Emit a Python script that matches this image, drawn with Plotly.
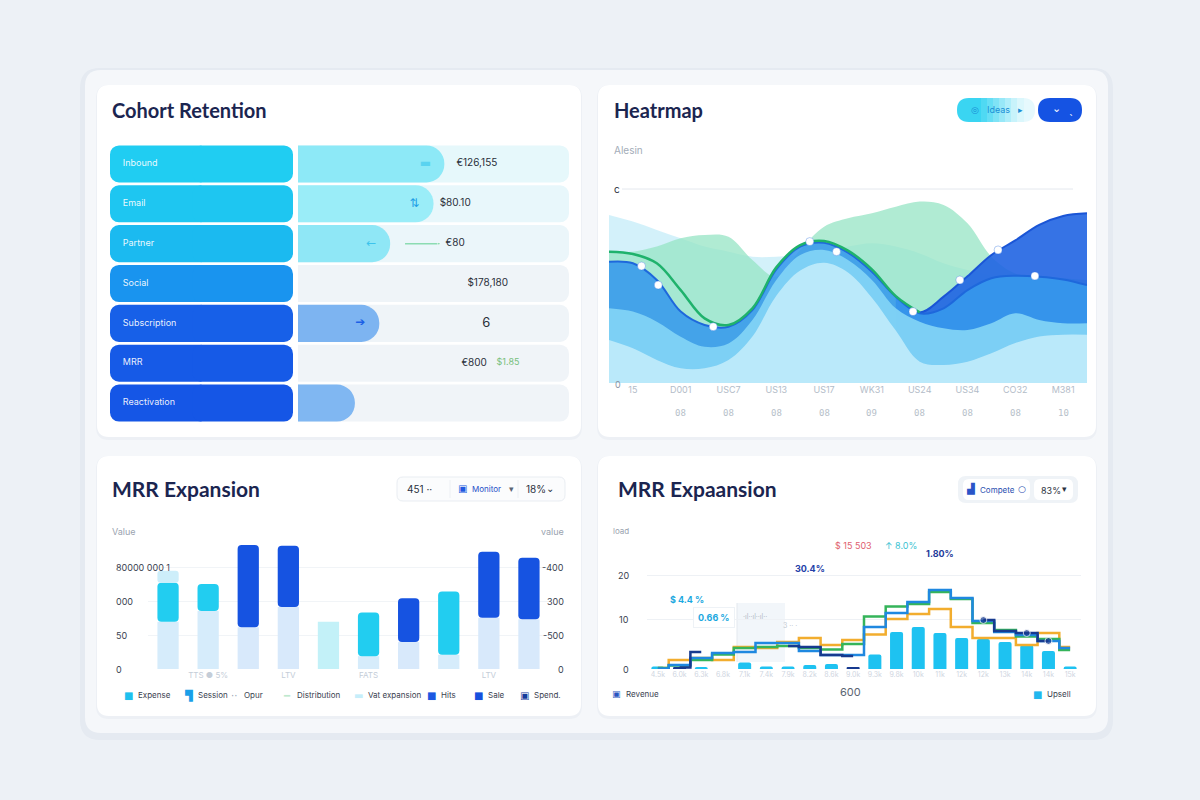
import plotly.graph_objects as go

W, H = 1200, 800
FONT = "Inter"
TFONT = "Lato"

# ---------------- data ----------------
# Cohort Retention
cohort_channels = ["Inbound", "Email", "Partner", "Social", "Subscription", "MRR", "Reactivation"]
cohort_retained = [54, 50, 34, 0, 30, 0, 21]
cohort_value_text = ["€126,155", "$80.10", "€80", "$178,180", "6", "€800", ""]
cohort_delta_text = ["", "", "", "", "", "$1.85", ""]
cohort_icons = ["▬", "⇅", "←", "", "➔", "", ""]
track_full = 100

# Heatmap (layered areas)
heat_x = [-0.5, 0, 0.5, 1, 1.5, 2, 2.5, 3, 3.5, 4, 4.5, 5, 5.5, 6, 6.5, 7, 7.5, 8, 8.5, 9, 9.5]
heat_ticks = ["15", "D001", "USC7", "US13", "US17", "WK31", "US24", "US34", "CO32", "M381"]
heat_subticks = ["", "08", "08", "08", "08", "09", "08", "08", "08", "10"]
heat_baseline = [86.6, 83.2, 78.9, 74.6, 70.3, 67.7, 65.1, 65.1, 66.0, 67.7, 70.3, 72.0, 70.3, 66.8, 61.7, 58.2, 55.7, 54.8, 54.0, 52.2, 49.7]
heat_mint = [67.7, 67.7, 70.3, 74.6, 76.3, 75.4, 63.4, 54.8, 68.6, 80.6, 84.9, 87.5, 90.9, 93.5, 91.8, 82.3, 65.1, 56.5, 54.8, 54.0, 53.1]
heat_blue = [62.5, 61.7, 53.1, 36.8, 29.9, 29.0, 37.6, 58.6, 70.3, 72.3, 67.2, 57.4, 44.5, 35.9, 38.5, 47.9, 54.0, 55.3, 54.8, 53.4, 50.5]
heat_right_x = [5.5, 6, 6.5, 7, 7.5, 8, 8.5, 9, 9.5]
heat_right = [44.5, 36.4, 44.5, 55.0, 66.0, 73.5, 81.5, 86.1, 87.5]
heat_band = [38.5, 36.8, 31.6, 23.9, 18.7, 20.4, 32.5, 53.1, 66.0, 68.6, 63.4, 53.1, 38.5, 31.6, 28.2, 27.3, 30.8, 35.9, 32.5, 30.8, 30.8]
heat_low = [22.2, 17.9, 11.9, 7.6, 7.6, 11.9, 24.0, 45.0, 58.0, 62.0, 57.0, 44.0, 27.0, 11.0, 9.3, 11.0, 15.3, 20.6, 24.0, 24.9, 24.9]
heat_green_x = [-0.5, 0, 0.5, 1, 1.5, 2, 2.5, 3, 3.5, 4, 4.5, 5, 5.5, 6]
heat_green = [67.7, 66.5, 61.7, 47.9, 33.3, 29.9, 38.5, 59.6, 71.1, 73.2, 68.2, 58.6, 44.8, 36.4]
heat_pts_x = [0.18, 0.53, 1.68, 3.7, 4.26, 5.86, 6.84, 7.64, 8.41]
heat_pts_y = [60.3, 50.5, 29.0, 72.9, 67.7, 36.8, 53.1, 68.6, 55.2]

# MRR Expansion (bars)
mrr_ticks = ["", "TTS ● 5%", "", "LTV", "", "FATS", "", "", "LTV", ""]
mrr_base = [70, 86, 62, 92, 70, 19, 40, 21, 76, 74]
mrr_expansion = [58, 40, 122, 91, 0, 65, 65, 94, 98, 91]
mrr_cap = [18, 0, 0, 0, 0, 0, 0, 0, 0, 0]
mrr_kind = ["cyan", "cyan", "blue", "blue", "pale", "cyan", "blue", "cyan", "blue", "blue"]
mrr_left_ticks = [0, 50, 100, 150]
mrr_left_labels = ["0", "50", "000", "80000 000 1"]
mrr_right_labels = ["0", "-500", "300", "-400"]
mrr_legend = ["Expense", "Session", "Opur", "Distribution", "Vat expansion", "Hits", "Sale", "Spend."]

# MRR Expaansion (bars + step lines)
exp_ticks = ["4.5k", "6.0k", "6.3k", "6.8k", "7.1k", "7.4k", "7.9k", "8.2k", "8.6k", "9.0k",
             "9.3k", "9.8k", "10k", "11k", "12k", "12k", "13k", "14k", "14k", "15k"]
exp_bars = [0.5, 0.3, 0.4, 0, 1.3, 0.5, 0.5, 0.8, 1.0, 0.3, 2.9, 7.4, 8.4, 7.2, 6.2, 6.0, 5.4, 4.8, 3.6, 0.5]
exp_bar_kind = ["c", "n", "c", "c", "c", "c", "c", "c", "c", "n", "c", "c", "c", "c", "c", "c", "c", "c", "c", "c"]
exp_blue = [0.1, 0.8, 2.2, 3.2, 3.4, 5.2, 5.2, 3.6, 2.8, 2.8, 8.4, 11.2, 13.4, 15.8, 14.2, 9.6, 7.4, 6.8, 5.6, 4.2]
exp_orange = [0.2, 1.8, 2.2, 1.8, 4.4, 4.2, 5.4, 6.2, 4.8, 5.8, 6.9, 10.0, 11.0, 12.0, 8.4, 6.2, 6.2, 4.8, 7.2, 4.4]
exp_green = [0.2, 0.7, 1.8, 2.9, 4.2, 4.4, 4.6, 4.2, 3.9, 5.0, 10.5, 12.5, 13.0, 15.4, 14.0, 9.2, 7.8, 6.5, 6.0, 3.8]
exp_navy = [None, 0.3, 3.4, None, None, None, 4.6, 4.4, 2.8, 2.6, None, None, None, None, None, 9.8, 7.6, 7.2, 5.6, None]
exp_navy_marker = [0, 0, 0, 0, 0, 0, 0, 0, 0, 0, 0, 0, 0, 0, 0, 7, 0, 7, 7, 0]
exp_y_ticks = [0, 10, 18.8, 27.6]
exp_y_labels = ["0", "10", "20", "load"]
exp_callouts = ["$ 4.4 %", "0.66 %", "30.4%", "$ 15 503", "↑ 8.0%", "1.80%"]
exp_callout_x = [1.34, 2.6, 7.0, 9.0, 11.2, 13.0]
exp_callout_y = [14.0, 10.4, 20.2, 24.8, 24.8, 23.2]

# ---------------- helpers ----------------
def px(x):
    return x / W


def py(y):
    return 1 - y / H


def rr(x0, y0, x1, y1, r, fill, line=None, lw=0):
    pts = [
        ("M", [(x0 + r, y0)]), ("L", [(x1 - r, y0)]), ("Q", [(x1, y0), (x1, y0 + r)]),
        ("L", [(x1, y1 - r)]), ("Q", [(x1, y1), (x1 - r, y1)]), ("L", [(x0 + r, y1)]),
        ("Q", [(x0, y1), (x0, y1 - r)]), ("L", [(x0, y0 + r)]), ("Q", [(x0, y0), (x0 + r, y0)]),
    ]
    path = " ".join(c + " " + " ".join(f"{px(a):.5f},{py(b):.5f}" for a, b in p) for c, p in pts) + " Z"
    return dict(type="path", xref="paper", yref="paper", path=path, fillcolor=fill,
                line=dict(color=line or "rgba(0,0,0,0)", width=lw), layer="below")


def hline(x0, x1, y, color, w=1):
    return dict(type="line", xref="paper", yref="paper", x0=px(x0), x1=px(x1), y0=py(y), y1=py(y),
                line=dict(color=color, width=w), layer="below")


def vline(x, y0, y1, color, w=1):
    return dict(type="line", xref="paper", yref="paper", x0=px(x), x1=px(x), y0=py(y0), y1=py(y1),
                line=dict(color=color, width=w), layer="below")


def txt(x, y, s, size=10, color="#2b3240", anchor="left", family=FONT):
    return dict(xref="paper", yref="paper", x=px(x), y=py(y), text=s, showarrow=False,
                xanchor=anchor, yanchor="middle", font=dict(size=size, color=color, family=family))


fig = go.Figure()
shapes = []
ann = []

# ---------------- background cards ----------------
shapes.append(rr(80, 68, 1113, 740, 20, "rgba(40,70,120,0.035)"))
shapes.append(rr(85, 70, 1108, 733, 16, "#f5f7fa"))
for (a, b, c, d) in [(97, 85, 581, 437), (598, 85, 1096, 437), (97, 456, 581, 716), (598, 456, 1096, 716)]:
    shapes.append(rr(a - 1, b, c + 1, d + 3, 13, "rgba(40,70,120,0.04)"))
    shapes.append(rr(a, b, c, d, 12, "#ffffff"))

# ---------------- Cohort Retention ----------------
ann.append(txt(110, 110, "<b>Cohort Retention</b>", 20, "#1b2550", family=TFONT))
pill_colors = ["#20cdf2", "#1ec6f1", "#1bbaf0", "#1994ef", "#1760e8", "#165ae7", "#1556e6"]
track_colors = ["#e6f8fb", "#e8f7fb", "#ebf6fa", "#eff4f8", "#eff4f8", "#f0f4f8", "#f0f4f8"]
fill_colors = ["#8de9f7", "#9aedf8", "#8fe7f6", "#8fe7f6", "#7db4f1", "#7db4f1", "#80b7f2"]
icon_colors = ["#5ad3f0", "#1f9fe6", "#3cc3ec", "#3cc3ec", "#1c5fe6", "#1c5fe6", "#1c5fe6"]

fig.add_trace(go.Bar(orientation="h", y=cohort_channels, x=[-1] * 7, width=0.93, xaxis="x", yaxis="y",
                     marker=dict(color=pill_colors, cornerradius=9, line=dict(width=0)), hoverinfo="skip"))
fig.add_trace(go.Bar(orientation="h", y=cohort_channels, x=[1.1] * 7, base=-0.1, width=0.93, xaxis="x", yaxis="y",
                     marker=dict(color=pill_colors, cornerradius=9, line=dict(width=0)), hoverinfo="skip"))
fig.add_trace(go.Scatter(x=[-0.86] * 7, y=cohort_channels, text=cohort_channels, mode="text",
                         textposition="middle right", xaxis="x", yaxis="y", cliponaxis=False,
                         textfont=dict(size=9, color="rgba(255,255,255,0.92)", family=FONT), hoverinfo="skip"))
fig.add_trace(go.Bar(orientation="h", y=cohort_channels, x=[track_full] * 7, width=0.93, xaxis="x2", yaxis="y",
                     marker=dict(color=track_colors, cornerradius=9, line=dict(width=0)), hoverinfo="skip"))
fig.add_trace(go.Bar(orientation="h", y=cohort_channels, x=cohort_retained, width=0.93, xaxis="x6", yaxis="y",
                     marker=dict(color=fill_colors, cornerradius=18, line=dict(width=0)), hoverinfo="skip"))
fig.add_trace(go.Scatter(x=[v - 7 for v in cohort_retained], y=cohort_channels, text=cohort_icons, mode="text",
                         xaxis="x6", yaxis="y", cliponaxis=False,
                         textfont=dict(size=12, color=icon_colors, family="DejaVu Sans"), hoverinfo="skip"))
value_x = [66, 58, 58, 70, 69.5, 65, 0]
value_sizes = [10, 10, 10, 10, 13, 10, 10]
fig.add_trace(go.Scatter(x=value_x, y=cohort_channels, text=cohort_value_text, mode="text",
                         xaxis="x6", yaxis="y", cliponaxis=False,
                         textfont=dict(size=value_sizes, color="#2a2f3a", family=FONT), hoverinfo="skip"))
fig.add_trace(go.Scatter(x=[77.5] * 7, y=cohort_channels, text=cohort_delta_text, mode="text",
                         xaxis="x6", yaxis="y", cliponaxis=False,
                         textfont=dict(size=9, color="#78c07c", family=FONT), hoverinfo="skip"))
fig.add_trace(go.Scatter(x=[39.5, 52], y=[cohort_channels[2]] * 2, mode="lines+markers", xaxis="x6", yaxis="y",
                         line=dict(color="#8cdcb2", width=1.5), marker=dict(size=[0, 3], color="#8cdcb2"),
                         hoverinfo="skip"))

# ---------------- Heatrmap ----------------
ann.append(txt(612, 110, "<b>Heatrmap</b>", 20, "#1b2550", family=TFONT))
ann.append(txt(612, 150, "Alesin", 10, "#a3acb8"))
shapes.append(rr(957, 98, 1035, 122, 12, "#e6f9fd"))
grad = ["#3ad5f2", "#4fd9f3", "#66def5", "#7fe3f6", "#98e8f8", "#b0eefa", "#c8f3fb", "#dbf7fc"]
shapes.append(rr(957, 98, 990, 122, 12, grad[0]))
for i, col in enumerate(grad):
    shapes.append(dict(type="rect", xref="paper", yref="paper", x0=px(975 + 6 * i), x1=px(982 + 6 * i),
                       y0=py(122), y1=py(98), fillcolor=col, line=dict(width=0), layer="below"))
shapes.append(rr(1038, 98, 1082, 122, 12, "#1553e3"))
ann.append(txt(975, 110, "◎", 9, "#1b8fd6", "center", "DejaVu Sans"))
ann.append(txt(985, 110, "Ideas", 9, "#1b8fd6"))
ann.append(txt(1020, 110, "▸", 9, "#1b8fd6", "center", "DejaVu Sans"))
ann.append(txt(1056, 109, "⌄", 11, "#ffffff", "center", "DejaVu Sans"))
ann.append(txt(1071, 110, "ˎ", 10, "#ffffff", "center", "DejaVu Sans"))
shapes.append(hline(622, 1073, 189, "#e4e8ee", 1))
ann.append(txt(617, 189, "c", 10, "#2a2f3a", "center"))
ann.append(txt(618, 384, "0", 9, "#8a94a3", "center"))

fig.add_trace(go.Scatter(x=heat_x, y=heat_baseline, mode="lines", line=dict(shape="spline", width=0),
                         fill="tozeroy", fillcolor="rgba(175,230,246,0.55)", xaxis="x3", yaxis="y3", hoverinfo="skip"))
fig.add_trace(go.Scatter(x=heat_x, y=heat_mint, mode="lines", line=dict(shape="spline", width=0),
                         fill="tozeroy", fillcolor="rgba(150,228,196,0.75)", xaxis="x3", yaxis="y3", hoverinfo="skip"))
fig.add_trace(go.Scatter(x=heat_right_x, y=heat_right, mode="lines", line=dict(shape="spline", width=2, color="#1a55d6"),
                         fill="tozeroy", fillcolor="rgba(32,100,226,0.9)", xaxis="x3", yaxis="y3", hoverinfo="skip"))
fig.add_trace(go.Scatter(x=heat_x, y=heat_blue, mode="lines", line=dict(shape="spline", width=2, color="#1e68dc"),
                         fill="tozeroy", fillcolor="rgba(55,152,236,0.88)", xaxis="x3", yaxis="y3", hoverinfo="skip"))
fig.add_trace(go.Scatter(x=heat_x, y=heat_band, mode="lines", line=dict(shape="spline", width=0),
                         fill="tozeroy", fillcolor="rgba(130,212,245,0.92)", xaxis="x3", yaxis="y3", hoverinfo="skip"))
fig.add_trace(go.Scatter(x=heat_x, y=heat_low, mode="lines", line=dict(shape="spline", width=0),
                         fill="tozeroy", fillcolor="rgba(190,234,250,0.95)", xaxis="x3", yaxis="y3", hoverinfo="skip"))
fig.add_trace(go.Scatter(x=heat_green_x, y=heat_green, mode="lines", line=dict(shape="spline", width=2.5, color="#1fb26c"),
                         xaxis="x3", yaxis="y3", hoverinfo="skip"))
fig.add_trace(go.Scatter(x=heat_pts_x, y=heat_pts_y, mode="markers", xaxis="x3", yaxis="y3",
                         marker=dict(size=8, color="#ffffff", line=dict(color="rgba(40,110,220,0.35)", width=1)),
                         hoverinfo="skip"))
for i, s in enumerate(heat_subticks):
    if s:
        ann.append(dict(xref="x3", yref="paper", x=i, y=py(413), text=s, showarrow=False,
                        font=dict(size=9, color="#b7bfca", family="DejaVu Sans Mono")))

# ---------------- MRR Expansion (bars) ----------------
ann.append(txt(110, 489, "<b>MRR Expansion</b>", 21, "#1b2550", family=TFONT))
shapes.append(rr(397, 477, 565, 501, 6, "#fbfcfd", "#e9edf2", 1))
shapes.append(vline(450, 480, 498, "#edf0f4"))
shapes.append(vline(518, 480, 498, "#edf0f4"))
ann.append(txt(405, 489, "451 ··", 10, "#2b3240"))
ann.append(txt(463, 488, "▣", 10, "#2058e0", "center", "DejaVu Sans"))
ann.append(txt(470, 489, "Monitor", 8, "#1f4fc8"))
ann.append(txt(511, 489, "▾", 9, "#5a6472", "center", "DejaVu Sans"))
ann.append(txt(524, 489, "18%", 10, "#2b3240"))
ann.append(txt(550, 489, "⌄", 10, "#2b3240", "center", "DejaVu Sans"))
ann.append(txt(110, 531, "Value", 9, "#9aa3af"))
ann.append(txt(566, 531, "value", 9, "#9aa3af", "right"))

kind_color = {"cyan": "#22cdf0", "blue": "#1653e1", "pale": "#bff0f8"}
base_color = {"cyan": "#d6ecfb", "blue": "#d8e9fb", "pale": "#c3f1f8"}
fig.add_trace(go.Bar(x=list(range(10)), y=mrr_base, width=0.53, xaxis="x4", yaxis="y4",
                     marker=dict(color=[base_color[k] for k in mrr_kind], line=dict(width=0),
                                 cornerradius=[0 if k != "pale" else 4 for k in mrr_kind]),
                     hoverinfo="skip"))
fig.add_trace(go.Bar(x=list(range(10)), y=mrr_expansion, base=mrr_base, width=0.53, xaxis="x4", yaxis="y4",
                     marker=dict(color=[kind_color[k] for k in mrr_kind], cornerradius=4, line=dict(width=0)),
                     hoverinfo="skip"))
fig.add_trace(go.Bar(x=list(range(10)), y=mrr_cap, base=[a + b for a, b in zip(mrr_base, mrr_expansion)], width=0.53,
                     xaxis="x4", yaxis="y4", marker=dict(color="#cdeefa", cornerradius=3, line=dict(width=0)),
                     hoverinfo="skip"))
for v, lab, rlab in zip(mrr_left_ticks, mrr_left_labels, mrr_right_labels):
    ann.append(dict(xref="paper", yref="y4", x=px(114), y=v, text=lab, showarrow=False, xanchor="left",
                    font=dict(size=9, color="#3a4250", family=FONT)))
    ann.append(dict(xref="paper", yref="y4", x=px(566), y=v, text=rlab, showarrow=False, xanchor="right",
                    font=dict(size=9, color="#3a4250", family=FONT)))

legend_x = [128, 188, 234, 287, 358, 431, 478, 524]
legend_icon = ["■", "▜", "··", "━", "▬", "■", "■", "▣"]
legend_col = ["#1ec0ee", "#1a9fe8", "#9aa6b4", "#bfe9cf", "#c6eefa", "#1c58e2", "#1650de", "#163c9c"]
for x0, ic, col, lab in zip(legend_x, legend_icon, legend_col, mrr_legend):
    ann.append(txt(x0, 695, ic, 10, col, "center", "DejaVu Sans"))
    ann.append(txt(x0 + 8, 695, lab, 8, "#3a4250"))

# ---------------- MRR Expaansion (lines) ----------------
ann.append(txt(616, 489, "<b>MRR Expaansion</b>", 21, "#1b2550", family=TFONT))
shapes.append(rr(958, 476, 1078, 503, 8, "#eff3f7"))
shapes.append(rr(963, 479, 1030, 500, 6, "#ffffff"))
shapes.append(rr(1034, 479, 1073, 500, 6, "#ffffff"))
ann.append(txt(970, 489, "▟", 10, "#2a55c8", "center", "DejaVu Sans"))
ann.append(txt(978, 490, "Compete", 8, "#2a4fb0"))
ann.append(txt(1022, 489, "○", 9, "#2a4fb0", "center", "DejaVu Sans"))
ann.append(txt(1039, 490, "83%", 9, "#2b3240"))
ann.append(txt(1064, 489, "▾", 9, "#2b3240", "center", "DejaVu Sans"))

shapes.append(dict(type="rect", xref="paper", yref="paper", x0=px(737), x1=px(785), y0=py(662), y1=py(603),
                   fillcolor="rgba(232,238,245,0.55)", line=dict(width=0), layer="below"))
shapes.append(vline(737, 603, 662, "#e3e8ee"))
ann.append(txt(741, 616, "·ıl··ıl··ıl··", 7, "#b6bec9"))
ann.append(txt(781, 625, "3 ·· ·", 7, "#c3cad3"))

bar_col = {"c": "#1ec2f1", "n": "#173a8f"}
fig.add_trace(go.Bar(x=list(range(20)), y=exp_bars, width=0.6, xaxis="x5", yaxis="y5",
                     marker=dict(color=[bar_col[k] for k in exp_bar_kind], cornerradius=2, line=dict(width=0)),
                     hoverinfo="skip"))
for ys, col in [(exp_orange, "#f2ad2e"), (exp_green, "#35b45a"), (exp_blue, "#1f88e0")]:
    fig.add_trace(go.Scatter(x=list(range(20)), y=ys, mode="lines", xaxis="x5", yaxis="y5",
                             line=dict(shape="hvh", width=2.5, color=col), hoverinfo="skip"))
fig.add_trace(go.Scatter(x=list(range(20)), y=exp_navy, mode="lines+markers", xaxis="x5", yaxis="y5",
                         connectgaps=False, line=dict(shape="hvh", width=2.5, color="#173a8f"),
                         marker=dict(size=exp_navy_marker, color="#173a8f"), hoverinfo="skip"))
for v, lab in zip(exp_y_ticks, exp_y_labels):
    ann.append(dict(xref="paper", yref="y5", x=px(631), y=v, text=lab, showarrow=False, xanchor="right",
                    font=dict(size=9 if lab != "load" else 8, color="#3a4250" if lab != "load" else "#9aa3af",
                              family=FONT)))
call_col = ["#1ba8e0", "#1ba8e0", "#2340a8", "#e0606e", "#3cc3d2", "#1e3a9a"]
call_bold = [True, True, True, False, False, True]
call_bg = ["rgba(0,0,0,0)", "#ffffff", "rgba(0,0,0,0)", "#ffffff", "#ffffff", "rgba(0,0,0,0)"]
call_border = ["rgba(0,0,0,0)", "#eef2f6", "rgba(0,0,0,0)", "rgba(0,0,0,0)", "rgba(0,0,0,0)", "rgba(0,0,0,0)"]
for s, x0, y0, c, b, bg, bc in zip(exp_callouts, exp_callout_x, exp_callout_y, call_col, call_bold, call_bg, call_border):
    ann.append(dict(xref="x5", yref="y5", x=x0, y=y0, text=f"<b>{s}</b>" if b else s, showarrow=False,
                    bgcolor=bg, bordercolor=bc, borderwidth=1, borderpad=4 if bg == "#ffffff" else 0,
                    font=dict(size=9, color=c, family=FONT)))
ann.append(txt(616, 694, "▣", 9, "#2a55c0", "center", "DejaVu Sans"))
ann.append(txt(624, 694, "Revenue", 8, "#3a4250"))
ann.append(txt(850, 692, "600", 11, "#5a6472", "center"))
ann.append(txt(1037, 694, "■", 10, "#22b7ee", "center", "DejaVu Sans"))
ann.append(txt(1045, 694, "Upsell", 8, "#3a4250"))

# ---------------- layout ----------------
hidden = dict(visible=False, fixedrange=True)
fig.update_layout(
    width=W, height=H, margin=dict(l=0, r=0, t=0, b=0),
    paper_bgcolor="#edf1f6", plot_bgcolor="rgba(0,0,0,0)",
    showlegend=False, barmode="overlay",
    font=dict(family=FONT),
    xaxis=dict(domain=[px(110), px(293)], range=[-1, 1], anchor="y", **hidden),
    xaxis2=dict(domain=[px(298), px(569)], range=[0, 100], anchor="y", **hidden),
    xaxis6=dict(domain=[px(298), px(569)], range=[0, 100], anchor="y", overlaying="x2", **hidden),
    yaxis=dict(domain=[py(423), py(144)], type="category", autorange="reversed", anchor="x", **hidden),
    xaxis3=dict(domain=[px(609), px(1087)], range=[-0.5, 9.5], anchor="y3", showgrid=False, zeroline=False,
                showline=False, tickvals=list(range(10)), ticktext=heat_ticks, ticks="",
                tickfont=dict(size=9, color="#b3bcc8", family=FONT), fixedrange=True),
    yaxis3=dict(domain=[py(383), py(189)], range=[0, 100], anchor="x3", **hidden),
    xaxis4=dict(domain=[px(148), px(549)], range=[-0.5, 9.5], anchor="y4", showgrid=False, zeroline=False,
                tickvals=list(range(10)), ticktext=mrr_ticks, ticks="",
                tickfont=dict(size=8, color="#c4cdd8", family=FONT), fixedrange=True),
    yaxis4=dict(domain=[py(669), py(541)], range=[0, 190], anchor="x4", showticklabels=False,
                tickvals=mrr_left_ticks, showgrid=True, gridcolor="#f1f4f7", zeroline=False, fixedrange=True),
    xaxis5=dict(domain=[px(647), px(1081)], range=[-0.5, 19.5], anchor="y5", showgrid=False, zeroline=False,
                tickvals=list(range(20)), ticktext=exp_ticks, ticks="", tickangle=0,
                tickfont=dict(size=7, color="#cfd6df", family=FONT), fixedrange=True),
    yaxis5=dict(domain=[py(669), py(531)], range=[0, 27.6], anchor="x5", showticklabels=False,
                tickvals=exp_y_ticks, showgrid=True, gridcolor="#eef1f5", zeroline=False, fixedrange=True),
    shapes=shapes, annotations=ann,
)

fig.write_html("out.html")
